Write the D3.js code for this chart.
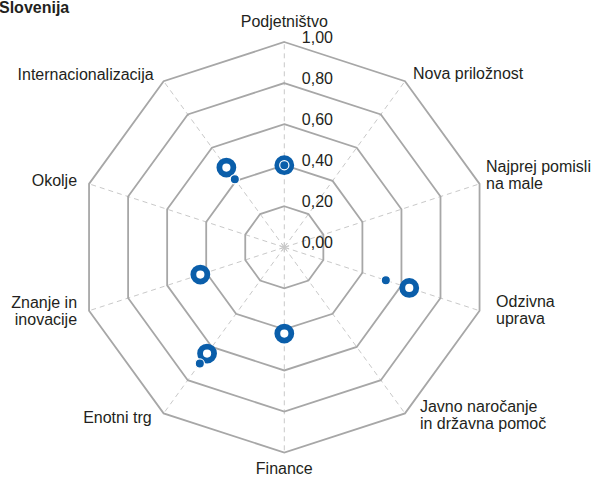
<!DOCTYPE html>
<html>
<head>
<meta charset="utf-8">
<script src="https://cdn.jsdelivr.net/npm/d3@7"></script>
<style>
  body { margin: 0; background: #fff; }
  svg { display: block; font-family: "Liberation Sans", Arial, sans-serif; }
</style>
</head>
<body>
<div id="chart"></div>
<script>
// Radar chart data
const axisNames = [
    ["Podjetništvo"],
    ["Nova priložnost"],
    ["Najprej pomisli", "na male"],
    ["Odzivna", "uprava"],
    ["Javno naročanje", "in državna pomoč"],
    ["Finance"],
    ["Enotni trg"],
    ["Znanje in", "inovacije"],
    ["Okolje"],
    ["Internacionalizacija"]
];
// ring markers (null = no value)
const ringValues = [0.40, null, null, 0.64, null, 0.42, 0.64, 0.43, null, 0.48];
// small filled dots
const dotValues = [0.40, null, null, 0.52, null, null, 0.70, null, null, 0.41];
const tickValues = [0, 0.2, 0.4, 0.6, 0.8, 1.0];
const tickLabels = ["0,00", "0,20", "0,40", "0,60", "0,80", "1,00"];

const width = 596, height = 477;
const cx = 284.3, cy = 247.3, radius = 205.3;
const blue = "#0a5eaa";

let svg = d3.select("#chart").append("svg")
    .attr("width", width)
    .attr("height", height);

let r = d3.scaleLinear().domain([0, 1]).range([0, radius]);
let angle = d3.scaleLinear().domain([0, axisNames.length]).range([0, 2 * Math.PI]);

function point(i, v) {
    let a = angle(i);
    return [cx + Math.sin(a) * r(v), cy - Math.cos(a) * r(v)];
}

// Spokes (dashed)
svg.append("g").selectAll("line")
    .data(axisNames)
    .join("line")
    .attr("x1", cx).attr("y1", cy)
    .attr("x2", (d, i) => point(i, 1)[0])
    .attr("y2", (d, i) => point(i, 1)[1])
    .attr("stroke", "#c9c9c9")
    .attr("stroke-width", 1)
    .attr("stroke-dasharray", "5,4");

// Grid rings
svg.append("g").selectAll("polygon")
    .data(tickValues.filter(t => t > 0))
    .join("polygon")
    .attr("points", t => axisNames.map((d, i) => point(i, t).join(",")).join(" "))
    .attr("fill", "none")
    .attr("stroke", "#a7a7a7")
    .attr("stroke-width", 1.8);

// Tick labels
svg.append("g").selectAll("text")
    .data(tickValues)
    .join("text")
    .attr("x", cx + 17.5)
    .attr("y", t => cy - r(t) + 1)
    .attr("font-size", 16)
    .attr("fill", "#231f20")
    .text((t, i) => tickLabels[i]);

// Axis labels, nudged per position around the web
const nudge = [
    [0, -15, "middle"], [8, -2, "start"], [6.5, -12, "start"], [16.5, -4, "start"],
    [15, -1.5, "start"], [0, 21, "middle"], [-12, 10, "end"], [-12, -2.4, "end"],
    [-12, 2, "end"], [-10, -1, "end"]
];
let labels = svg.append("g").selectAll("text")
    .data(axisNames)
    .join("text")
    .attr("font-size", 16)
    .attr("fill", "#231f20")
    .attr("text-anchor", (d, i) => nudge[i][2])
    .attr("x", (d, i) => point(i, 1)[0] + nudge[i][0])
    .attr("y", (d, i) => point(i, 1)[1] + nudge[i][1]);
labels.selectAll("tspan")
    .data(d => d)
    .join("tspan")
    .attr("x", function() { return this.parentNode.getAttribute("x"); })
    .attr("dy", (d, j) => j === 0 ? 0 : 17)
    .text(d => d);

// Ring markers
svg.append("g").selectAll("circle")
    .data(ringValues.map((v, i) => ({v, i})).filter(d => d.v !== null))
    .join("circle")
    .attr("cx", d => point(d.i, d.v)[0])
    .attr("cy", d => point(d.i, d.v)[1])
    .attr("r", 7)
    .attr("fill", "#fff")
    .attr("stroke", blue)
    .attr("stroke-width", 5.8);

// Dot markers
svg.append("g").selectAll("circle")
    .data(dotValues.map((v, i) => ({v, i})).filter(d => d.v !== null))
    .join("circle")
    .attr("cx", d => point(d.i, d.v)[0])
    .attr("cy", d => point(d.i, d.v)[1])
    .attr("r", 4.6)
    .attr("fill", blue)
    .attr("stroke", "#fff")
    .attr("stroke-width", 1.2);

// Centre star
svg.append("g").selectAll("line")
    .data(d3.range(axisNames.length))
    .join("line")
    .attr("x1", cx).attr("y1", cy)
    .attr("x2", i => cx + Math.sin(angle(i)) * 5)
    .attr("y2", i => cy - Math.cos(angle(i)) * 5)
    .attr("stroke", "#c9c9c9");

// Title
svg.append("text")
    .attr("x", -1)
    .attr("y", 13)
    .attr("font-size", 16)
    .attr("font-weight", "bold")
    .attr("fill", "#231f20")
    .text("Slovenija");
</script>
</body>
</html>
